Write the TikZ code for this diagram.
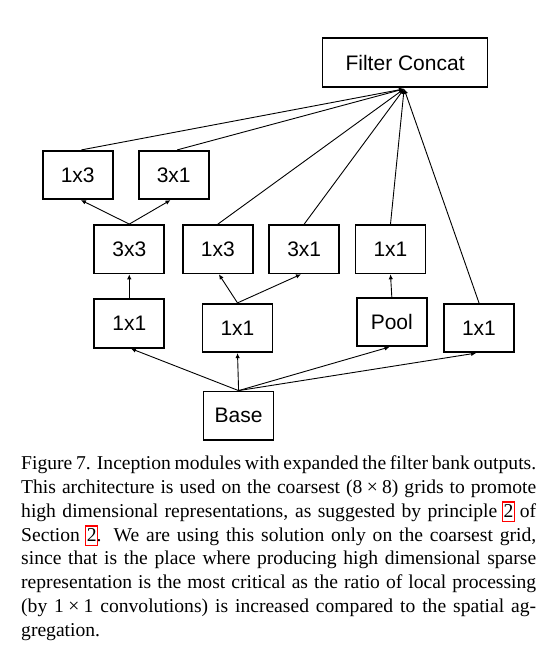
\documentclass[tikz,border=0pt]{standalone}
\usepackage{fontspec}
\setmainfont{Liberation Serif}
\newfontfamily\arialf{Liberation Sans}
\usetikzlibrary{arrows.meta}
\newsavebox\lnkbox
\newcommand\lnk[1]{\sbox\lnkbox{#1}\leavevmode\rlap{\kern-1.6pt\raisebox{-4pt}{\color{red}\fboxrule=1.3pt\fboxsep=0pt\framebox{\rule{0pt}{18.5pt}\kern\wd\lnkbox\kern0.4pt}}}\usebox\lnkbox}
\begin{document}
\begin{tikzpicture}[x=1pt,y=-1pt,
  blk/.style={draw, line width=1.7pt, inner sep=0pt,
    font=\arialf\fontsize{21}{25}\selectfont,
    minimum width=70pt, minimum height=48.5pt},
  con/.style={line width=0.9pt, -{Latex[length=5pt,width=4.5pt]}},
  captext/.style={inner sep=0pt, anchor=base west}]
\useasboundingbox[fill=white] (0,0) rectangle (549,646);
% nodes
\node[blk, minimum width=165pt, minimum height=48.7pt] (fc) at (405.1,62.5) {Filter Concat};
\node[blk] (t13) at (77.7,175) {1x3};
\node[blk] (t31) at (173.7,175) {3x1};
\node[blk] (m33) at (129.3,249.2) {3x3};
\node[blk] (m13) at (217.9,249.2) {1x3};
\node[blk] (m31) at (304.2,249.2) {3x1};
\node[blk] (m11) at (390.5,249.2) {1x1};
\node[blk] (ba) at (129.3,323.5) {1x1};
\node[blk] (bb) at (237.5,328) {1x1};
\node[blk] (pool) at (391.8,321.9) {Pool};
\node[blk] (bc) at (479,328) {1x1};
\node[blk] (base) at (238.6,415.7) {Base};
\coordinate (tip) at ([shift={(-1,1.2)}]fc.south);
% connectors to concat
\draw[con] ([shift={(3.7,0)}]t13.north) -- (tip);
\draw[con] ([shift={(3.5,0)}]t31.north) -- (tip);
\draw[con] (m13.north) -- (tip);
\draw[con] (m31.north) -- (tip);
\draw[con] (m11.north) -- (tip);
\draw[con] (bc.north) -- (tip);
% inner connectors
\draw[con] (m33.north) -- ([shift={(3.2,0)}]t13.south);
\draw[con] (m33.north) -- ([shift={(-3.2,0)}]t31.south);
\draw[con] (ba.north) -- (m33.south);
\draw[con] (bb.north) -- ([shift={(1,0)}]m13.south);
\draw[con] (bb.north) -- ([shift={(-3.2,0)}]m31.south);
\draw[con] (pool.north) -- (m11.south);
\draw[con] (base.north) -- ([shift={(1.6,0)}]ba.south);
\draw[con] (base.north) -- (bb.south);
\draw[con] (base.north) -- ([shift={(-2.3,0)}]pool.south);
\draw[con] (base.north) -- ([shift={(-2.9,0)}]bc.south);
% caption
\node[captext] (caption) at (21,469.3) {\parbox[t]{515pt}{\fontsize{19.6}{23.9}\selectfont
Figure 7. Inception modules with expanded the filter bank outputs.\linebreak
This architecture is used on the coarsest (8\hspace{0.22em}×\hspace{0.22em}8) grids to promote\linebreak
high dimensional representations, as suggested by principle \lnk{2} of\linebreak
Section \lnk{2}.  We are using this solution only on the coarsest grid,\linebreak
since that is the place where producing high dimensional sparse\linebreak
representation is the most critical as the ratio of local processing\linebreak
(by 1\hspace{0.22em}×\hspace{0.22em}1 convolutions) is increased compared to the spatial ag-\linebreak
gregation.}};
\end{tikzpicture}
\end{document}
